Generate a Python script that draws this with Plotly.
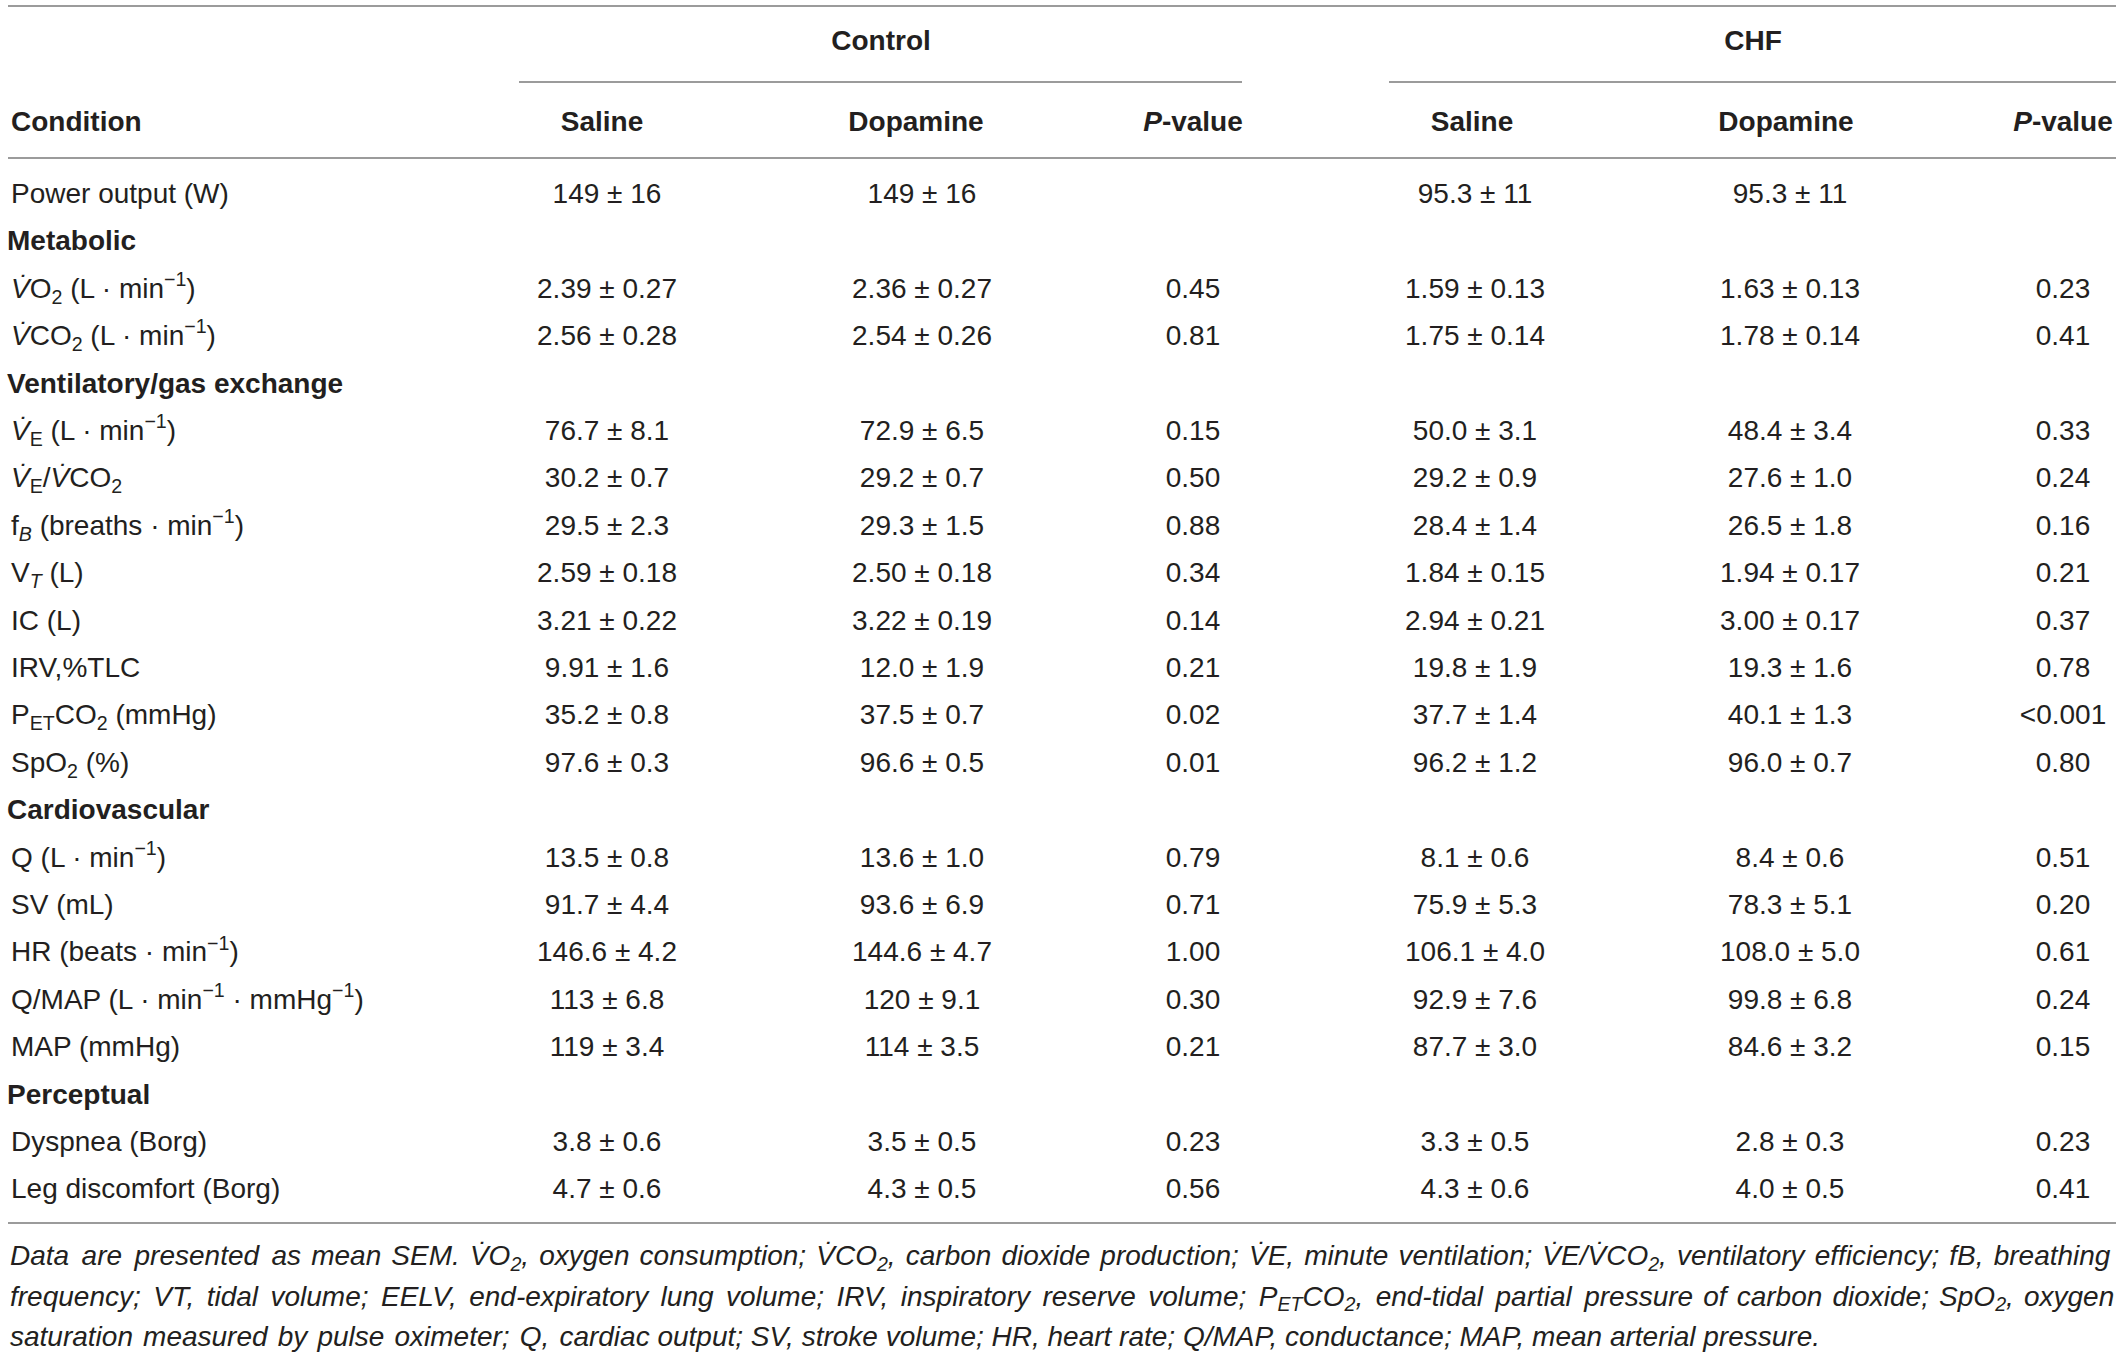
import plotly.graph_objects as go

# ---------------- data ----------------
labels = [
    "Power output (W)",
    "Metabolic",
    "<i>V\u0307</i>O<sub>2</sub> (L · min<sup>−1</sup>)",
    "<i>V\u0307</i>CO<sub>2</sub> (L · min<sup>−1</sup>)",
    "Ventilatory/gas exchange",
    "<i>V\u0307</i><sub>E</sub> (L · min<sup>−1</sup>)",
    "<i>V\u0307</i><sub>E</sub>/<i>V\u0307</i>CO<sub>2</sub>",
    "f<sub><i>B</i></sub> (breaths · min<sup>−1</sup>)",
    "V<sub><i>T</i></sub> (L)",
    "IC (L)",
    "IRV,%TLC",
    "P<sub>ET</sub>CO<sub>2</sub> (mmHg)",
    "SpO<sub>2</sub> (%)",
    "Cardiovascular",
    "Q (L · min<sup>−1</sup>)",
    "SV (mL)",
    "HR (beats · min<sup>−1</sup>)",
    "Q/MAP (L · min<sup>−1</sup> · mmHg<sup>−1</sup>)",
    "MAP (mmHg)",
    "Perceptual",
    "Dyspnea (Borg)",
    "Leg discomfort (Borg)",
]
is_section = [False, True, False, False, True, False, False, False, False, False,
              False, False, False, True, False, False, False, False, False, True,
              False, False]

control_saline = ["149 ± 16", "", "2.39 ± 0.27", "2.56 ± 0.28", "", "76.7 ± 8.1",
                  "30.2 ± 0.7", "29.5 ± 2.3", "2.59 ± 0.18", "3.21 ± 0.22", "9.91 ± 1.6",
                  "35.2 ± 0.8", "97.6 ± 0.3", "", "13.5 ± 0.8", "91.7 ± 4.4",
                  "146.6 ± 4.2", "113 ± 6.8", "119 ± 3.4", "", "3.8 ± 0.6", "4.7 ± 0.6"]
control_dopamine = ["149 ± 16", "", "2.36 ± 0.27", "2.54 ± 0.26", "", "72.9 ± 6.5",
                    "29.2 ± 0.7", "29.3 ± 1.5", "2.50 ± 0.18", "3.22 ± 0.19", "12.0 ± 1.9",
                    "37.5 ± 0.7", "96.6 ± 0.5", "", "13.6 ± 1.0", "93.6 ± 6.9",
                    "144.6 ± 4.7", "120 ± 9.1", "114 ± 3.5", "", "3.5 ± 0.5", "4.3 ± 0.5"]
control_p = ["", "", "0.45", "0.81", "", "0.15", "0.50", "0.88", "0.34", "0.14", "0.21",
             "0.02", "0.01", "", "0.79", "0.71", "1.00", "0.30", "0.21", "", "0.23", "0.56"]
chf_saline = ["95.3 ± 11", "", "1.59 ± 0.13", "1.75 ± 0.14", "", "50.0 ± 3.1",
              "29.2 ± 0.9", "28.4 ± 1.4", "1.84 ± 0.15", "2.94 ± 0.21", "19.8 ± 1.9",
              "37.7 ± 1.4", "96.2 ± 1.2", "", "8.1 ± 0.6", "75.9 ± 5.3",
              "106.1 ± 4.0", "92.9 ± 7.6", "87.7 ± 3.0", "", "3.3 ± 0.5", "4.3 ± 0.6"]
chf_dopamine = ["95.3 ± 11", "", "1.63 ± 0.13", "1.78 ± 0.14", "", "48.4 ± 3.4",
                "27.6 ± 1.0", "26.5 ± 1.8", "1.94 ± 0.17", "3.00 ± 0.17", "19.3 ± 1.6",
                "40.1 ± 1.3", "96.0 ± 0.7", "", "8.4 ± 0.6", "78.3 ± 5.1",
                "108.0 ± 5.0", "99.8 ± 6.8", "84.6 ± 3.2", "", "2.8 ± 0.3", "4.0 ± 0.5"]
chf_p = ["", "", "0.23", "0.41", "", "0.33", "0.24", "0.16", "0.21", "0.37", "0.78",
         "&lt;0.001", "0.80", "", "0.51", "0.20", "0.61", "0.24", "0.15", "", "0.23", "0.41"]

group_headers = ["Control", "CHF"]
sub_headers = ["Saline", "Dopamine", "<i>P</i>-value", "Saline", "Dopamine", "<i>P</i>-value"]
first_header = "Condition"

footnote_lines = [
    "Data are presented as mean SEM. V\u0307O<sub>2</sub>, oxygen consumption; V\u0307CO<sub>2</sub>, carbon dioxide production; V\u0307E, minute ventilation; V\u0307E/V\u0307CO<sub>2</sub>, ventilatory efficiency; fB, breathing",
    "frequency; VT, tidal volume; EELV, end-expiratory lung volume; IRV, inspiratory reserve volume; P<sub>ET</sub>CO<sub>2</sub>, end-tidal partial pressure of carbon dioxide; SpO<sub>2</sub>, oxygen",
    "saturation measured by pulse oximeter; Q, cardiac output; SV, stroke volume; HR, heart rate; Q/MAP, conductance; MAP, mean arterial pressure.",
]

# ---------------- layout / style constants ----------------
W, H = 2122, 1352
FONT = "Liberation Sans"
TXT = "#231f20"
LINE = "#7a7a7a"
FS = 28
FOOT_FS = 28
ROW0 = 196.0
ROW_H = 47.4
value_cols_x = [607, 922, 1193, 1475, 1790, 2063]
header_cols_x = [602, 916, 1193, 1472, 1786, 2063]
group_x = [881, 1753]
group_y = 43
sub_y = 124
label_x = 11
section_x = 7
foot_x = 10
foot_y0 = 1258
foot_dy = 40.5
HAIR = "\u200a"            # hair space used to mimic justified note lines
foot_pad_counts = [23, 35, 6]

n = len(labels)
rows_y = [ROW0 + i * ROW_H for i in range(n)]

fig = go.Figure()


def text_trace(xs, ys, texts, pos="middle center", size=FS, weight="normal", style="normal"):
    pts = [(x, y, t) for x, y, t in zip(xs, ys, texts) if t]
    if not pts:
        return
    fig.add_trace(go.Scatter(
        x=[p[0] for p in pts], y=[p[1] for p in pts], text=[p[2] for p in pts],
        mode="text", textposition=pos,
        textfont=dict(family=FONT, size=size, color=TXT, weight=weight, style=style),
        hoverinfo="skip", showlegend=False, cliponaxis=False))


def justify(text, count):
    if count <= 0:
        return text
    words = text.split(" ")
    gaps = len(words) - 1
    pads = [count // gaps + (1 if i < count % gaps else 0) for i in range(gaps)]
    out = words[0]
    for w, p in zip(words[1:], pads):
        out += " " + HAIR * p + w
    return out


# row labels
text_trace([label_x] * n, rows_y, [("" if s else l) for l, s in zip(labels, is_section)],
           pos="middle right")
text_trace([section_x] * n, rows_y, [(l if s else "") for l, s in zip(labels, is_section)],
           pos="middle right", weight="bold")

# value columns
for cx, col in zip(value_cols_x, [control_saline, control_dopamine, control_p,
                                  chf_saline, chf_dopamine, chf_p]):
    text_trace([cx] * n, rows_y, col)

# headers
text_trace(group_x, [group_y] * len(group_x), group_headers, weight="bold")
text_trace(header_cols_x, [sub_y] * len(header_cols_x), sub_headers, weight="bold")
text_trace([label_x], [sub_y], [first_header], pos="middle right", weight="bold")

# footnote
foot_texts = [justify(t, c) for t, c in zip(footnote_lines, foot_pad_counts)]
text_trace([foot_x] * len(foot_texts),
           [foot_y0 + i * foot_dy for i in range(len(foot_texts))],
           foot_texts, pos="middle right", size=FOOT_FS, style="italic")

# rules
rules = [
    (8, 2116, 6),
    (519, 1242, 82),
    (1389, 2116, 82),
    (8, 2116, 158),
    (8, 2116, 1223),
]
for x0, x1, y in rules:
    fig.add_shape(type="line", xref="x", yref="y", x0=x0, x1=x1, y0=y, y1=y,
                  line=dict(color=LINE, width=1.5))

fig.update_layout(
    width=W, height=H,
    margin=dict(l=0, r=0, t=0, b=0),
    paper_bgcolor="white", plot_bgcolor="white",
    xaxis=dict(visible=False, range=[0, W], fixedrange=True),
    yaxis=dict(visible=False, range=[H, 0], fixedrange=True),
    showlegend=False,
)

fig.write_html(
    "out.html",
    config={"displayModeBar": False},
    post_script="document.body.style.margin='0';document.body.style.padding='0';"
                "document.documentElement.style.overflow='hidden';",
)
